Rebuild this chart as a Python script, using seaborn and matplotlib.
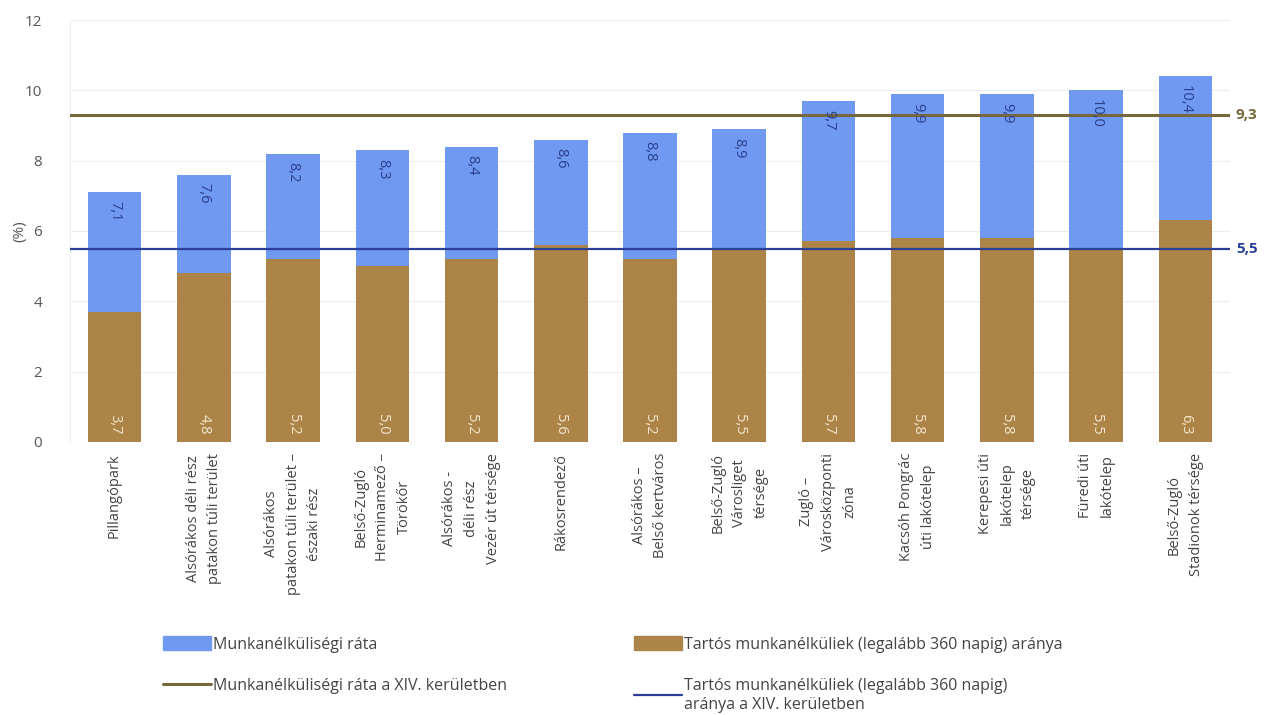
import matplotlib
matplotlib.use("Agg")
import matplotlib.pyplot as plt
import seaborn as sns
from matplotlib.patches import Patch
from matplotlib.lines import Line2D

# Data
categories = [
    "Pillangópark",
    "Alsórákos déli rész\npatakon túli terület",
    "Alsórákos\npatakon túli terület –\nészaki rész",
    "Belső-Zugló\nHerminamező –\nTörökőr",
    "Alsórákos -\ndéli rész\nVezér út térsége",
    "Rákosrendező",
    "Alsórákos –\nBelső kertváros",
    "Belső-Zugló\nVárosliget\ntérsége",
    "Zugló –\nVárosközponti\nzóna",
    "Kacsóh Pongrác\núti lakótelep",
    "Kerepesi úti\nlakótelep\ntérsége",
    "Füredi úti\nlakótelep",
    "Belső-Zugló\nStadionok térsége",
]
unemployment = [7.1, 7.6, 8.2, 8.3, 8.4, 8.6, 8.8, 8.9, 9.7, 9.9, 9.9, 10.0, 10.4]
long_term = [3.7, 4.8, 5.2, 5.0, 5.2, 5.6, 5.2, 5.5, 5.7, 5.8, 5.8, 5.5, 6.3]
district_rate = 9.3
district_long_term = 5.5

blue = "#7099f2"
brown = "#ad8447"
olive = "#75683c"
navy = "#2b3f99"

sns.set_style("white")
plt.rcParams["font.family"] = ["Open Sans", "DejaVu Sans"]

fig = plt.figure(figsize=(12.72, 7.15), dpi=100)
ax = fig.add_axes([0.055, 0.382, 0.912, 0.59])

sns.barplot(x=categories, y=unemployment, color=blue, width=0.6, saturation=1,
            linewidth=0, ax=ax)
sns.barplot(x=categories, y=long_term, color=brown, width=0.6, saturation=1,
            linewidth=0, ax=ax)

ax.axhline(district_rate, color=olive, lw=2.2, zorder=3)
ax.axhline(district_long_term, color=navy, lw=1.6, zorder=3)

# value labels
for i, (t, l) in enumerate(zip(unemployment, long_term)):
    ax.text(i, t - 0.25, f"{t:.1f}".replace(".", ","), rotation=270, ha="center", va="top",
            color="#2a3f8a", fontsize=10.5)
    ax.text(i, 0.2, f"{l:.1f}".replace(".", ","), rotation=270, ha="center", va="bottom",
            color="#f3e6cc", fontsize=10.5)

ax.text(1.005, district_rate, "9,3", transform=ax.get_yaxis_transform(), color=olive,
        fontsize=11, fontweight="bold", va="center", ha="left")
ax.text(1.005, district_long_term, "5,5", transform=ax.get_yaxis_transform(), color=navy,
        fontsize=11, fontweight="bold", va="center", ha="left")

ax.set_ylim(0, 12)
ax.set_xlim(-0.5, 12.5)
ax.set_yticks(range(0, 13, 2))
ax.yaxis.grid(True, color="#ececec", lw=0.8)
ax.set_axisbelow(True)
for s in ["top", "right", "bottom"]:
    ax.spines[s].set_visible(False)
ax.spines["left"].set_color("#f0f0f0")
ax.tick_params(axis="y", colors="#555555", labelsize=11, length=0, pad=20)
ax.tick_params(axis="x", length=0, pad=8)
ax.set_xticks(range(len(categories)))
ax.set_xticklabels(categories, rotation=90, ha="center", va="top", fontsize=10.5,
                   color="#444444", multialignment="center", linespacing=1.6)
ax.set_ylabel("(%)", fontsize=11, color="#555555", labelpad=-2)

handles = [
    Patch(color=blue, label="Munkanélküliségi ráta"),
    Line2D([], [], color=olive, lw=2.2, label="Munkanélküliségi ráta a XIV. kerületben"),
    Patch(color=brown, label="Tartós munkanélküliek (legalább 360 napig) aránya"),
    Line2D([], [], color=navy, lw=1.6,
           label="Tartós munkanélküliek (legalább 360 napig)\naránya a XIV. kerületben"),
]
fig.legend(handles=handles, ncol=2, loc="upper left", bbox_to_anchor=(0.117, 0.13),
           frameon=False, fontsize=11.5, handlelength=3.0, handleheight=0.9,
           handletextpad=0.1, columnspacing=8.0, labelspacing=1.6, labelcolor="#444444")

fig.savefig("out.png", dpi=100)
